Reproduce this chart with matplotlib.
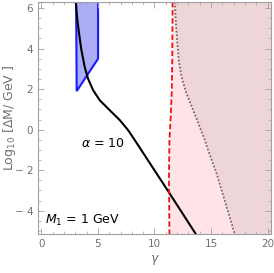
import numpy as np
import matplotlib.pyplot as plt
from matplotlib.ticker import MultipleLocator, FuncFormatter

# black curve (alpha = 10)
curve_g = [3.04, 3.15, 3.33, 3.54, 3.83, 4.12, 4.57, 5.16, 6.04, 6.93, 7.66, 8.26, 11.27, 13.65]
curve_L = [6.3, 5.56, 4.74, 3.92, 3.09, 2.52, 1.95, 1.45, 0.96, 0.47, -0.02, -0.52, -3.09, -5.15]

# blue excluded band
blue_g = [3.07, 5.01, 5.01, 3.12]
blue_L = [6.3, 6.3, 3.5, 1.9]

# red dashed boundary
red_L = [6.3, 3.4, 1.8, 0.6, -0.5, -2.4, -5.15]
red_g = [11.6, 11.57, 11.52, 11.43, 11.32, 11.28, 11.32]

# gray dotted boundary
dot_L = [6.3, 5.4, 4.41, 3.42, 2.6, 1.78, 0.96, 0.14, -0.52, -1.01, -2.16, -2.98, -5.15]
dot_g = [11.8, 11.88, 12.0, 12.15, 12.39, 12.83, 13.42, 14.0, 14.45, 14.74, 15.49, 15.93, 17.1]

fig = plt.figure(figsize=(2.74, 2.73), dpi=100)
ax = fig.add_axes([0.1387, 0.1429, 0.8503, 0.8498])

ax.fill_betweenx(red_L, red_g, 21, color='#ffe3e6', lw=0)
ax.fill_betweenx(dot_L, dot_g, 21, color='#eed5d8', lw=0)
ax.fill(blue_g, blue_L, facecolor='#adadf7', edgecolor='#1a1aff', lw=1.5)

ax.plot(curve_g, curve_L, color='black', lw=1.5)
ax.plot(red_g, red_L, color='#ee1111', lw=1.3, ls=(0, (3, 1.5)))
ax.plot(dot_g, dot_L, color='#7a6a6a', lw=1.3, ls=(0, (1, 1)))

ax.text(5.4, -0.66, r'$\alpha$ = 10', fontsize=9, ha='center', va='center')
ax.text(0.3, -4.46, r'$M_1$ = 1 GeV', fontsize=9, ha='left', va='center')

ax.set_xlim(-0.3, 20.3)
ax.set_ylim(-5.15, 6.3)

gray = '#a0a0a0'
for s in ax.spines.values():
    s.set_color(gray)
ax.xaxis.set_major_locator(MultipleLocator(5))
ax.xaxis.set_minor_locator(MultipleLocator(1))
ax.yaxis.set_major_locator(MultipleLocator(2))
ax.yaxis.set_minor_locator(MultipleLocator(0.5))
ax.tick_params(which='both', direction='in', top=True, right=True, color=gray,
               labelcolor='#707070', labelsize=7.5)
ax.tick_params(which='major', length=4, width=0.6)
ax.tick_params(which='minor', length=2, width=0.5)
ax.yaxis.set_major_formatter(FuncFormatter(lambda v, p: f'\u2212 {abs(v):.0f}' if v < 0 else f'{v:.0f}'))

ax.set_xlabel(r'$\gamma$', color='#707070', fontsize=9, labelpad=3)
ax.set_ylabel(r'Log$_{10}$ [$\Delta$M/ GeV ]', color='#707070', fontsize=9)
ax.yaxis.set_label_coords(-0.085, 0.5)

fig.savefig('out.png', dpi=100)
